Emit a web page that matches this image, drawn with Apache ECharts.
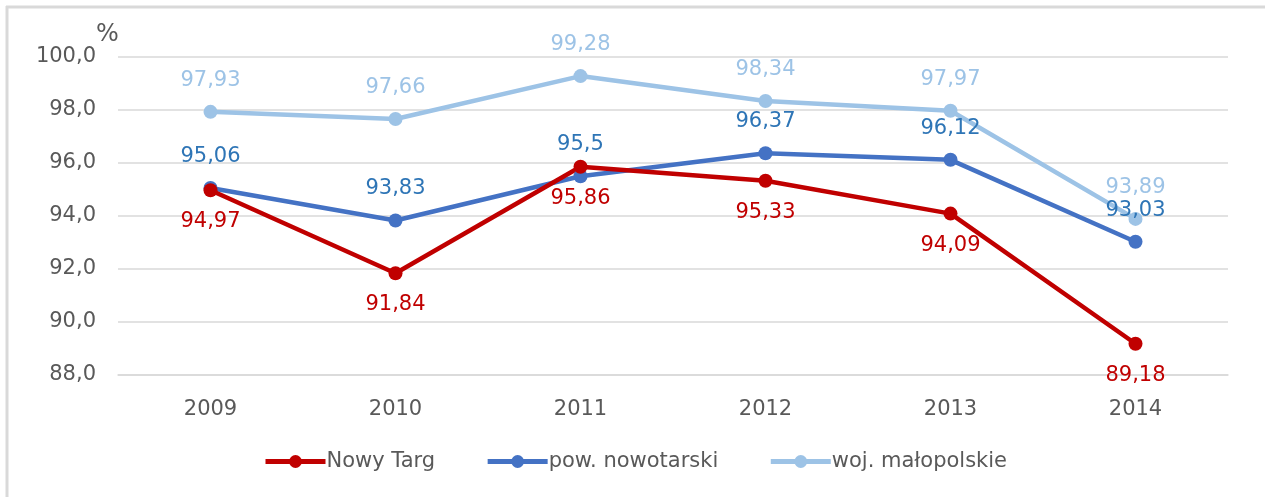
<!DOCTYPE html>
<html>
<head>
<meta charset="utf-8">
<script src="https://cdn.jsdelivr.net/npm/echarts@6/dist/echarts.min.js"></script>
<style>
  html, body { margin: 0; padding: 0; background: #fff; }
  #chart { width: 1265px; height: 497px; }
</style>
</head>
<body>
<div id="chart"></div>
<script>
// dane
var years = ["2009", "2010", "2011", "2012", "2013", "2014"];
var nowyTarg = [94.97, 91.84, 95.86, 95.33, 94.09, 89.18];
var powNowotarski = [95.06, 93.83, 95.5, 96.37, 96.12, 93.03];
var wojMalopolskie = [97.93, 97.66, 99.28, 98.34, 97.97, 93.89];

var font = "DejaVu Sans";

function fmt(p) {
  return String(p.value).replace(".", ",");
}

function series(name, data, lineColor, labelColor, pos) {
  return {
    name: name,
    type: "line",
    data: data,
    symbol: "circle",
    symbolSize: 14,
    lineStyle: { color: lineColor, width: 4.5 },
    itemStyle: { color: lineColor },
    label: {
      show: true,
      position: pos,
      distance: 14,
      color: labelColor,
      fontFamily: font,
      fontSize: 21,
      formatter: fmt
    }
  };
}

var myChart = echarts.init(document.getElementById("chart"));
var option = {
  backgroundColor: "#fff",
  animation: false,
  grid: { left: 118, right: 37, top: 57, bottom: 122 },
  legend: {
    bottom: 20,
    left: 258,
    itemWidth: 60,
    itemHeight: 16,
    itemGap: 50,
    lineStyle: { width: 5 },
    textStyle: { fontFamily: font, fontSize: 21, color: "#595959", padding: [0, 0, 0, -4] },
    data: ["Nowy Targ", "pow. nowotarski", "woj. małopolskie"]
  },
  xAxis: {
    type: "category",
    data: years,
    axisLine: { lineStyle: { color: "#d9d9d9", width: 1.5 } },
    axisTick: { show: false },
    axisLabel: { color: "#595959", fontFamily: font, fontSize: 21, margin: 24 }
  },
  yAxis: {
    type: "value",
    min: 88,
    max: 100,
    interval: 2,
    name: "%",
    nameGap: 8,
    nameTextStyle: { color: "#595959", fontFamily: font, fontSize: 24, align: "left", padding: [0, 0, 0, -22] },
    axisLine: { show: false },
    axisTick: { show: false },
    splitLine: { lineStyle: { color: "#d9d9d9", width: 1.5 } },
    axisLabel: {
      color: "#595959",
      fontFamily: font,
      fontSize: 21,
      margin: 22,
      formatter: function (v) { return v.toFixed(1).replace(".", ","); }
    }
  },
  series: [
    series("woj. małopolskie", wojMalopolskie, "#9dc3e6", "#9dc3e6", "top"),
    series("pow. nowotarski", powNowotarski, "#4472c4", "#2e75b6", "top"),
    series("Nowy Targ", nowyTarg, "#c00000", "#c00000", "bottom")
  ],
  graphic: [
    { type: "line", shape: { x1: 6, y1: 7, x2: 1265, y2: 7 }, style: { stroke: "#d9d9d9", lineWidth: 3 } },
    { type: "line", shape: { x1: 7, y1: 6, x2: 7, y2: 497 }, style: { stroke: "#d9d9d9", lineWidth: 3 } }
  ]
};
myChart.setOption(option);
</script>
</body>
</html>
